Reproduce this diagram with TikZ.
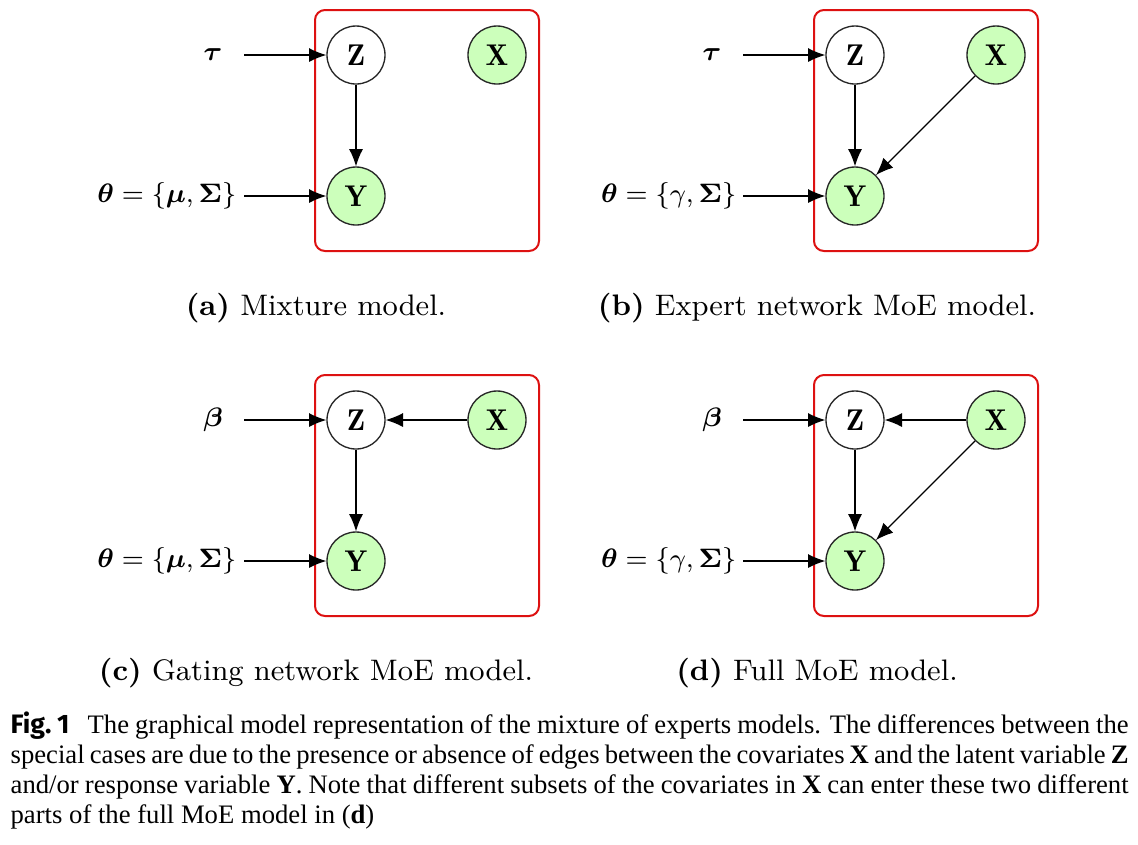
\documentclass[tikz,border=0pt]{standalone}
\usepackage{amsmath,bm}
\usepackage{fontspec}
\newfontfamily\capfont{Liberation Serif}
\newfontfamily\figfont{Fira Sans}
\usetikzlibrary{arrows.meta}
\definecolor{obs}{RGB}{204,255,187}
\definecolor{platecol}{RGB}{221,17,17}
\tikzset{
 var/.style={circle,draw=black!85,line width=0.4pt,minimum size=17.4pt,inner sep=0pt,font=\fontsize{9}{10}\selectfont},
 obsv/.style={var,fill=obs},
 edge/.style={-{Latex[length=5.2pt,width=4.2pt]},line width=0.35pt},
 platebox/.style={draw=platecol,line width=0.6pt,rounded corners=3pt},
 lab/.style={font=\fontsize{8}{10}\selectfont,inner sep=0pt},
 sub/.style={font=\fontsize{8.9}{11}\selectfont,inner sep=0pt,anchor=base},
 capline/.style={anchor=base west,inner sep=0pt,font=\capfont\fontsize{8}{9}\selectfont}
}
\begin{document}
\begin{tikzpicture}[x=0.3pt,y=-0.3pt]
\useasboundingbox (0,0) rectangle (1138,844);
% ---------- (a)
\begin{scope}[name prefix=a-]
\draw[platebox] (315,10) rectangle (539,251);
\node[var] (Z) at (356,55) {$\mathbf{Z}$};
\node[obsv] (X) at (497,55) {$\mathbf{X}$};
\node[obsv] (Y) at (356,196) {$\mathbf{Y}$};
\node[lab] (p1) at (213,55) {$\bm{\tau}$};
\node[lab,anchor=east] (p2) at (237,196) {$\bm{\theta}=\{\bm{\mu},\bm{\Sigma}\}$};
\coordinate (s1) at (244,55);
\coordinate (s2) at (244,196);
\draw[edge] (s1) -- (Z);
\draw[edge] (s2) -- (Y);
\draw[edge] (Z) -- (Y);
\node[sub] (cap) at (316,315) {\textbf{(a)} Mixture model.};
\end{scope}
% ---------- (b)
\begin{scope}[name prefix=b-]
\draw[platebox] (814,10) rectangle (1038,251);
\node[var] (Z) at (855,55) {$\mathbf{Z}$};
\node[obsv] (X) at (996,55) {$\mathbf{X}$};
\node[obsv] (Y) at (855,196) {$\mathbf{Y}$};
\node[lab] (p1) at (712,55) {$\bm{\tau}$};
\node[lab,anchor=east] (p2) at (737,196) {$\bm{\theta}=\{\gamma,\bm{\Sigma}\}$};
\coordinate (s1) at (743,55);
\coordinate (s2) at (743,196);
\draw[edge] (s1) -- (Z);
\draw[edge] (s2) -- (Y);
\draw[edge] (Z) -- (Y);
\draw[edge] (X) -- (Y);
\node[sub] (cap) at (817,315) {\textbf{(b)} Expert network MoE model.};
\end{scope}
% ---------- (c)
\begin{scope}[name prefix=c-]
\draw[platebox] (315,375) rectangle (539,616);
\node[var] (Z) at (356,420) {$\mathbf{Z}$};
\node[obsv] (X) at (497,420) {$\mathbf{X}$};
\node[obsv] (Y) at (356,561) {$\mathbf{Y}$};
\node[lab] (p1) at (213,420) {$\bm{\beta}$};
\node[lab,anchor=east] (p2) at (237,561) {$\bm{\theta}=\{\bm{\mu},\bm{\Sigma}\}$};
\coordinate (s1) at (244,420);
\coordinate (s2) at (244,561);
\draw[edge] (s1) -- (Z);
\draw[edge] (s2) -- (Y);
\draw[edge] (Z) -- (Y);
\draw[edge] (X) -- (Z);
\node[sub] (cap) at (316,680) {\textbf{(c)} Gating network MoE model.};
\end{scope}
% ---------- (d)
\begin{scope}[name prefix=d-]
\draw[platebox] (814,375) rectangle (1038,616);
\node[var] (Z) at (855,420) {$\mathbf{Z}$};
\node[obsv] (X) at (996,420) {$\mathbf{X}$};
\node[obsv] (Y) at (855,561) {$\mathbf{Y}$};
\node[lab] (p1) at (712,420) {$\bm{\beta}$};
\node[lab,anchor=east] (p2) at (737,561) {$\bm{\theta}=\{\gamma,\bm{\Sigma}\}$};
\coordinate (s1) at (743,420);
\coordinate (s2) at (743,561);
\draw[edge] (s1) -- (Z);
\draw[edge] (s2) -- (Y);
\draw[edge] (Z) -- (Y);
\draw[edge] (X) -- (Z);
\draw[edge] (X) -- (Y);
\node[sub] (cap) at (817,680) {\textbf{(d)} Full MoE model.};
\end{scope}
% ---------- figure caption
\node[capline] (l1) at (10,733) {\makebox[335.4pt][s]{{\figfont\bfseries Fig.~1}\hspace{0.45em} The graphical model representation of the mixture of experts models. The differences between the}};
\node[capline] (l2) at (10,763) {\makebox[335.4pt][s]{special cases are due to the presence or absence of edges between the covariates \textbf{X} and the latent variable \textbf{Z}}};
\node[capline] (l3) at (10,793) {\makebox[335.4pt][s]{and/or response variable \textbf{Y}. Note that different subsets of the covariates in \textbf{X} can enter these two different}};
\node[capline] (l4) at (10,823) {parts of the full MoE model in (\textbf{d})};
\end{tikzpicture}
\end{document}
